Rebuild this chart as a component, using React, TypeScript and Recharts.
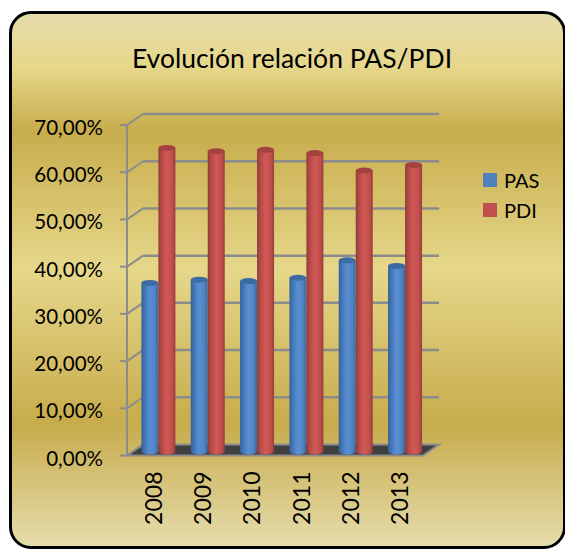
import React from "react";
import { BarChart, Bar, XAxis, YAxis, CartesianGrid, Legend } from "recharts";

const years = ["2008", "2009", "2010", "2011", "2012", "2013"];
const pas = [35.7, 36.4, 36.1, 36.8, 40.5, 39.3];
const pdi = [64.3, 63.6, 63.9, 63.2, 59.5, 60.7];
const yTicks = [0, 10, 20, 30, 40, 50, 60, 70];

const data = years.map((year, i) => ({ year, pas: pas[i], pdi: pdi[i] }));

const FONT = "Lato, 'Liberation Sans', sans-serif";
const GRID = "#8c8c8c";
// 3d depth: front plane and back wall offsets from the bar plane
const FX = -7;
const FY = 4;
const BX = 9;
const BY = -7;

const pct = (v: number) => `${v.toFixed(2).replace(".", ",")}%`;

const tones: Record<string, { id: string; stops: string[]; top: string }> = {
  pas: { id: "cylPas", stops: ["#34609a", "#4477b8", "#5a90d2", "#4f83c4", "#3a679f"], top: "#3c6aa2" },
  pdi: { id: "cylPdi", stops: ["#8f3b39", "#b64a47", "#d15956", "#c24f4c", "#963e3c"], top: "#a4423f" },
};

function Cylinder(props: any) {
  const { x, y, width, height, tone } = props;
  const t = tones[tone];
  const rx = width / 2;
  const ry = 3;
  const bottom = y + height;
  return (
    <g>
      <defs>
        <linearGradient id={t.id} x1="0" y1="0" x2="1" y2="0">
          <stop offset="0" stopColor={t.stops[0]} />
          <stop offset="0.2" stopColor={t.stops[1]} />
          <stop offset="0.5" stopColor={t.stops[2]} />
          <stop offset="0.8" stopColor={t.stops[3]} />
          <stop offset="1" stopColor={t.stops[4]} />
        </linearGradient>
      </defs>
      <path
        d={`M${x},${y} L${x},${bottom} A${rx},${ry} 0 0 0 ${x + width},${bottom} L${x + width},${y} Z`}
        fill={`url(#${t.id})`}
      />
      <ellipse cx={x + rx} cy={y} rx={rx} ry={ry} fill={t.top} />
    </g>
  );
}

function GridLine(p: any) {
  const { x1, x2, y1, y, height } = p;
  const isFloor = Math.abs(y1 - (y + height)) < 1;
  const isTop = Math.abs(y1 - y) < 1;
  return (
    <g key={p.key}>
      {isFloor ? (
        <polygon
          points={`${x1 + FX},${y1 + FY} ${x2 + FX},${y1 + FY} ${x2 + BX},${y1 + BY} ${x1 + BX},${y1 + BY}`}
          fill="#404040"
          stroke={GRID}
          strokeWidth={2}
        />
      ) : (
        <line x1={x1 + BX} y1={y1 + BY} x2={x2 + BX} y2={y1 + BY} stroke={GRID} strokeWidth={2.5} />
      )}
      <line x1={x1 + FX} y1={y1 + FY} x2={x1 + BX} y2={y1 + BY} stroke={GRID} strokeWidth={2} />
      <line x1={x1 + FX - 7} y1={y1 + FY} x2={x1 + FX} y2={y1 + FY} stroke={GRID} strokeWidth={2} />
      {isTop && (
        <line x1={x1 + FX} y1={y1 + FY} x2={x1 + FX} y2={y + height + FY} stroke={GRID} strokeWidth={2} />
      )}
    </g>
  );
}

function YTick({ y, payload }: any) {
  return (
    <text x={103} y={y + 6} textAnchor="end" dominantBaseline="central" fontSize={20.5} fontFamily={FONT} fill="#000">
      {pct(payload.value)}
    </text>
  );
}

function XTick({ x, y, payload }: any) {
  return (
    <text
      transform={`translate(${x - 6}, ${y + 12}) rotate(-90)`}
      textAnchor="end"
      dominantBaseline="central"
      fontSize={23}
      fontFamily={FONT}
      fill="#000"
    >
      {payload.value}
    </text>
  );
}

function LegendBox({ payload }: any) {
  return (
    <div style={{ fontFamily: FONT, fontSize: 20, color: "#000", whiteSpace: "nowrap", width: 80 }}>
      {(payload || []).map((e: any) => (
        <div key={e.value} style={{ display: "flex", alignItems: "center", height: 30 }}>
          <span style={{ width: 14, height: 14, flexShrink: 0, background: e.color, display: "inline-block" }} />
          <span style={{ marginLeft: 7 }}>{e.value}</span>
        </div>
      ))}
    </div>
  );
}

export default function App() {
  return (
    <div style={{ position: "absolute", left: 0, top: 0, width: 565, height: 550, overflow: "hidden", background: "#fff" }}>
      <div
        style={{
          position: "absolute",
          left: 9,
          top: 11,
          width: 557,
          height: 538,
          boxSizing: "border-box",
          border: "3.5px solid #000",
          borderRadius: 22,
          background:
            "linear-gradient(to bottom, #e6dcac 0%, #e6d78a 10%, #c7ac4c 22%, #e6d78a 48%, #c7ac4c 77%, #e6dcac 100%)",
        }}
      />
      <div
        style={{
          position: "absolute",
          left: 0,
          top: 45,
          width: 584,
          textAlign: "center",
          fontFamily: FONT,
          fontSize: 26.5,
          lineHeight: 1,
          color: "#000",
        }}
      >
        Evolución relación PAS/PDI
      </div>
      <div style={{ position: "absolute", left: 0, top: 0 }}>
        <BarChart
          width={565}
          height={550}
          data={data}
          margin={{ top: 121, right: 135, bottom: 0, left: 0 }}
          barCategoryGap="15%"
          barGap={0}
        >
          <CartesianGrid horizontal={GridLine} vertical={false} />
          <XAxis dataKey="year" height={98.5} axisLine={false} tickLine={false} tick={<XTick />} interval={0} />
          <YAxis width={134} domain={[0, 70]} ticks={yTicks} axisLine={false} tickLine={false} tick={<YTick />} />
          <Legend content={<LegendBox />} wrapperStyle={{ left: 483, top: 165, width: 0, height: 0 }} />
          <Bar dataKey="pas" name="PAS" fill="#4f81bd" isAnimationActive={false} shape={(p: any) => <Cylinder {...p} tone="pas" />} />
          <Bar dataKey="pdi" name="PDI" fill="#c0504d" isAnimationActive={false} shape={(p: any) => <Cylinder {...p} tone="pdi" />} />
        </BarChart>
      </div>
    </div>
  );
}
